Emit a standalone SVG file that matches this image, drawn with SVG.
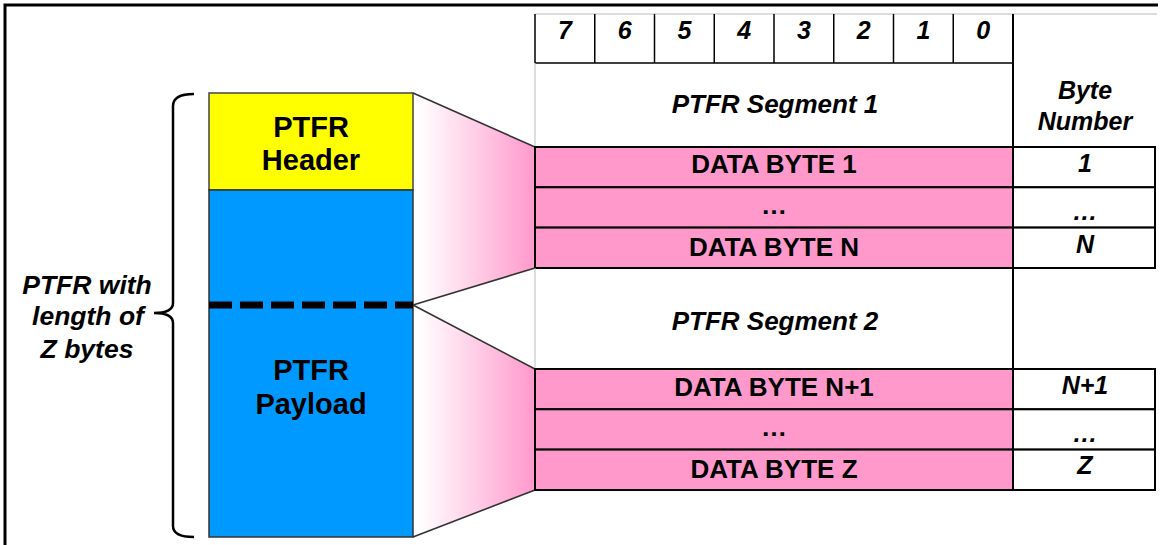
<svg xmlns="http://www.w3.org/2000/svg" width="1163" height="545" viewBox="0 0 1163 545">
<defs>
<linearGradient id="fade" x1="413" y1="0" x2="535" y2="0" gradientUnits="userSpaceOnUse">
<stop offset="0.05" stop-color="#FFFFFF"/>
<stop offset="1" stop-color="#FF99CC"/>
</linearGradient>
<style>
text{font-family:"Liberation Sans",Arial,sans-serif;font-weight:bold;fill:#000;text-anchor:middle}
.it{font-style:italic}
.bit{font-size:25px}
.seg{font-size:26px}
.data{font-size:26px}
.num{font-size:25px}
.big{font-size:29px}
.lbl{font-size:26.5px}
.cell{stroke:#000;stroke-width:2}
.pink{fill:#FF99CC}
.white{fill:#FFFFFF}
.thin{stroke:#000;stroke-width:1.5;fill:none}
.faint{stroke:#BBBBBB;stroke-width:1;fill:none}
.diag{stroke:#333;stroke-width:1.6;fill:none}
</style>
</defs>
<rect width="1163" height="545" fill="#FFFFFF"/>
<path d="M5,545 L5,5 L1158,5" fill="none" stroke="#000" stroke-width="3"/>

<g id="connectors">
<polygon points="413,93 535,147 535,268 413,305" fill="url(#fade)"/>
<polygon points="413,305 535,369 535,490 413,537" fill="url(#fade)"/>
<line class="diag" x1="413" y1="93" x2="535" y2="147"/>
<line class="diag" x1="413" y1="305" x2="535" y2="268"/>
<line class="diag" x1="413" y1="305" x2="535" y2="369"/>
<line class="diag" x1="413" y1="537" x2="535" y2="490"/>
<path d="M194,94 Q173,94 173,106 L173,303 Q173,313 154,313 Q173,313 173,323 L173,526 Q173,537 194,537" fill="none" stroke="#000" stroke-width="2.5"/>
</g>

<g id="ptfr-frame">
<rect x="209" y="93" width="204" height="97" fill="#FFFF00" stroke="#444" stroke-width="1.5"/>
<rect x="209" y="190" width="204" height="347" fill="#0099FF" stroke="#333" stroke-width="1.5"/>
<line x1="209" y1="305" x2="413" y2="305" stroke="#000" stroke-width="7" stroke-dasharray="23,8"/>
<text class="big" x="311" y="137">PTFR</text>
<text class="big" x="311" y="170">Header</text>
<text class="big" x="311" y="380">PTFR</text>
<text class="big" x="311" y="414">Payload</text>
</g>

<g id="length-label">
<text class="lbl it" x="87" y="294">PTFR with</text>
<text class="lbl it" x="88" y="325">length of</text>
<text class="lbl it" x="87" y="358">Z bytes</text>
</g>

<g id="bit-header">
<line class="faint" x1="535" y1="14" x2="1157" y2="14"/>
<path class="thin" d="M535,14 V63 M594.75,14 V63 M654.5,14 V63 M714.25,14 V63 M774,14 V63 M833.75,14 V63 M893.5,14 V63 M953.25,14 V63 M535,63 H1013"/>
<text class="bit it" x="565" y="39">7</text>
<text class="bit it" x="624.6" y="39">6</text>
<text class="bit it" x="684.4" y="39">5</text>
<text class="bit it" x="744.1" y="39">4</text>
<text class="bit it" x="803.9" y="39">3</text>
<text class="bit it" x="863.6" y="39">2</text>
<text class="bit it" x="923.4" y="39">1</text>
<text class="bit it" x="983.1" y="39">0</text>
</g>

<g id="segment-1">
<line class="faint" x1="535" y1="63" x2="535" y2="147"/>
<text class="seg it" x="775" y="113">PTFR Segment 1</text>
<text class="num it" x="1085" y="99">Byte</text>
<text class="num it" x="1085" y="130">Number</text>
</g>

<g id="rows-1">
<rect class="cell pink" x="535" y="147" width="478" height="40.3"/>
<rect class="cell pink" x="535" y="187.3" width="478" height="40.3"/>
<rect class="cell pink" x="535" y="227.6" width="478" height="40.4"/>
<rect class="cell white" x="1013" y="147" width="142" height="40.3"/>
<rect class="cell white" x="1013" y="187.3" width="142" height="40.3"/>
<rect class="cell white" x="1013" y="227.6" width="142" height="40.4"/>
<text class="data" x="774" y="173">DATA BYTE 1</text>
<text class="data" x="774" y="214">…</text>
<text class="data" x="774" y="256">DATA BYTE N</text>
<text class="num it" x="1085" y="172">1</text>
<text class="num it" x="1085" y="220">…</text>
<text class="num it" x="1085" y="253">N</text>
</g>

<g id="segment-2">
<line class="faint" x1="535" y1="268" x2="535" y2="369"/>
<text class="seg it" x="775" y="330">PTFR Segment 2</text>
</g>

<g id="rows-2">
<rect class="cell pink" x="535" y="369" width="478" height="40.3"/>
<rect class="cell pink" x="535" y="409.3" width="478" height="40.3"/>
<rect class="cell pink" x="535" y="449.6" width="478" height="40.4"/>
<rect class="cell white" x="1013" y="369" width="142" height="40.3"/>
<rect class="cell white" x="1013" y="409.3" width="142" height="40.3"/>
<rect class="cell white" x="1013" y="449.6" width="142" height="40.4"/>
<text class="data" x="774" y="396">DATA BYTE N+1</text>
<text class="data" x="774" y="436">…</text>
<text class="data" x="774" y="478">DATA BYTE Z</text>
<text class="num it" x="1085" y="394">N+1</text>
<text class="num it" x="1085" y="442">…</text>
<text class="num it" x="1085" y="474">Z</text>
</g>
<line x1="1013" y1="14" x2="1013" y2="490" stroke="#000" stroke-width="2"/>
</svg>
